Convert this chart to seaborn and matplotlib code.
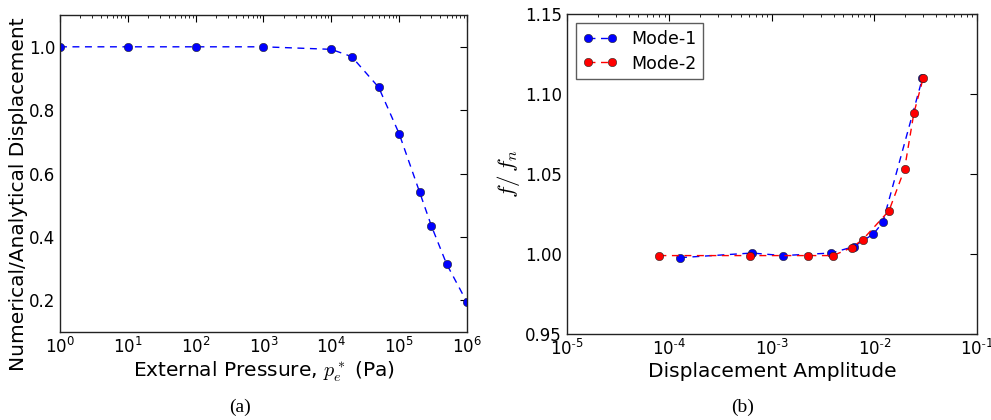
import numpy as np
import matplotlib
matplotlib.use('Agg')
import matplotlib.pyplot as plt
import seaborn as sns
from matplotlib.ticker import FormatStrFormatter, LogLocator, FuncFormatter

sns.set_style("white", rc={'text.color': 'black', 'axes.labelcolor': 'black',
                           'xtick.color': 'black', 'ytick.color': 'black'})
plt.rcParams['font.family'] = ['DejaVu Sans']
plt.rcParams['mathtext.fontset'] = 'cm'
plt.rcParams['axes.unicode_minus'] = False

# (a) displacement ratio vs external pressure
pressure = [1, 10, 100, 1e3, 1e4, 2e4, 5e4, 1e5, 2e5, 3e5, 5e5, 1e6]
disp_ratio = [1.0, 1.0, 1.0, 1.0, 0.992, 0.969, 0.872, 0.726, 0.542, 0.434, 0.315, 0.194]

# (b) frequency ratio vs displacement amplitude
amp_mode1 = [1.27e-4, 6.4e-4, 1.28e-3, 3.8e-3, 6.3e-3, 9.8e-3, 1.21e-2, 2.95e-2]
freq_mode1 = [0.9977, 1.0006, 0.999, 1.0006, 1.0046, 1.0125, 1.0198, 1.110]
amp_mode2 = [8.0e-5, 6.15e-4, 2.24e-3, 3.96e-3, 6.0e-3, 7.7e-3, 1.39e-2, 1.97e-2, 2.43e-2, 3.0e-2]
freq_mode2 = [0.999, 0.999, 0.999, 0.999, 1.004, 1.009, 1.027, 1.053, 1.088, 1.110]


def pow10_label(v, pos):
    e = int(round(np.log10(v)))
    if e < 0:
        return r'$\mathdefault{10^{\text{-}%d}}$' % (-e)
    return r'$\mathdefault{10^{%d}}$' % e


fig = plt.figure(figsize=(9.91, 4.2), dpi=100)
ax1 = fig.add_axes([0.0605, 0.2095, 0.4107, 0.7545])
ax2 = fig.add_axes([0.572, 0.2048, 0.4137, 0.7619])

line_kw = dict(marker='o', markersize=6, markeredgewidth=0.4,
               linewidth=1.0, dashes=(5, 4))

sns.lineplot(x=pressure, y=disp_ratio, ax=ax1, color='b', sort=False, **line_kw)
sns.lineplot(x=amp_mode1, y=freq_mode1, ax=ax2, color='b', sort=False, label='Mode-1', **line_kw)
sns.lineplot(x=amp_mode2, y=freq_mode2, ax=ax2, color='r', sort=False, label='Mode-2', **line_kw)
for ln in ax1.lines + ax2.lines:
    ln.set_markerfacecolor(ln.get_color())
    ln.set_markeredgecolor('#222222')

ax1.set_xscale('log')
ax1.set_xlim(1, 1e6)
ax1.set_ylim(0.1, 1.1)
ax1.set_yticks([0.2, 0.4, 0.6, 0.8, 1.0])
ax1.yaxis.set_major_formatter(FormatStrFormatter('%.1f'))
ax1.set_xlabel(r'External Pressure, $p_e^*$ (Pa)', fontsize=14.5, labelpad=2)
ax1.set_ylabel('Numerical/Analytical Displacement', fontsize=14.5)
ax1.yaxis.set_label_coords(-0.079, 0.435)

ax2.set_xscale('log')
ax2.set_xlim(1e-5, 1e-1)
ax2.set_ylim(0.95, 1.15)
ax2.set_yticks([0.95, 1.0, 1.05, 1.10, 1.15])
ax2.yaxis.set_major_formatter(FormatStrFormatter('%.2f'))
ax2.set_xlabel('Displacement Amplitude', fontsize=14.5, labelpad=2)
ax2.set_ylabel(r'$f/\,f_n$', fontsize=16.5, labelpad=2)

for ax in (ax1, ax2):
    ax.xaxis.set_major_locator(LogLocator(base=10, numticks=10))
    ax.xaxis.set_minor_locator(LogLocator(base=10, subs=np.arange(2, 10), numticks=20))
    ax.xaxis.set_major_formatter(FuncFormatter(pow10_label))
    ax.tick_params(which='both', direction='in', top=True, right=True, labelsize=12)
    ax.tick_params(which='major', length=5, width=0.8)
    ax.tick_params(which='minor', length=2.5, width=0.6)
    for sp in ax.spines.values():
        sp.set_color('#222222')
        sp.set_linewidth(1.0)
    ax.grid(False)

leg = ax2.legend(loc='upper left', numpoints=2, fontsize=12.5, frameon=True, fancybox=False,
                 handlelength=2.0, borderpad=0.4, labelspacing=0.4, handletextpad=0.8)
leg.get_frame().set_edgecolor('#333333')
leg.get_frame().set_linewidth(1.0)

fig.text(0.2425, 0.03, '(a)', ha='center', va='center', fontsize=14, family='Liberation Serif')
fig.text(0.749, 0.03, '(b)', ha='center', va='center', fontsize=14, family='Liberation Serif')

fig.savefig('out.png', dpi=100)
